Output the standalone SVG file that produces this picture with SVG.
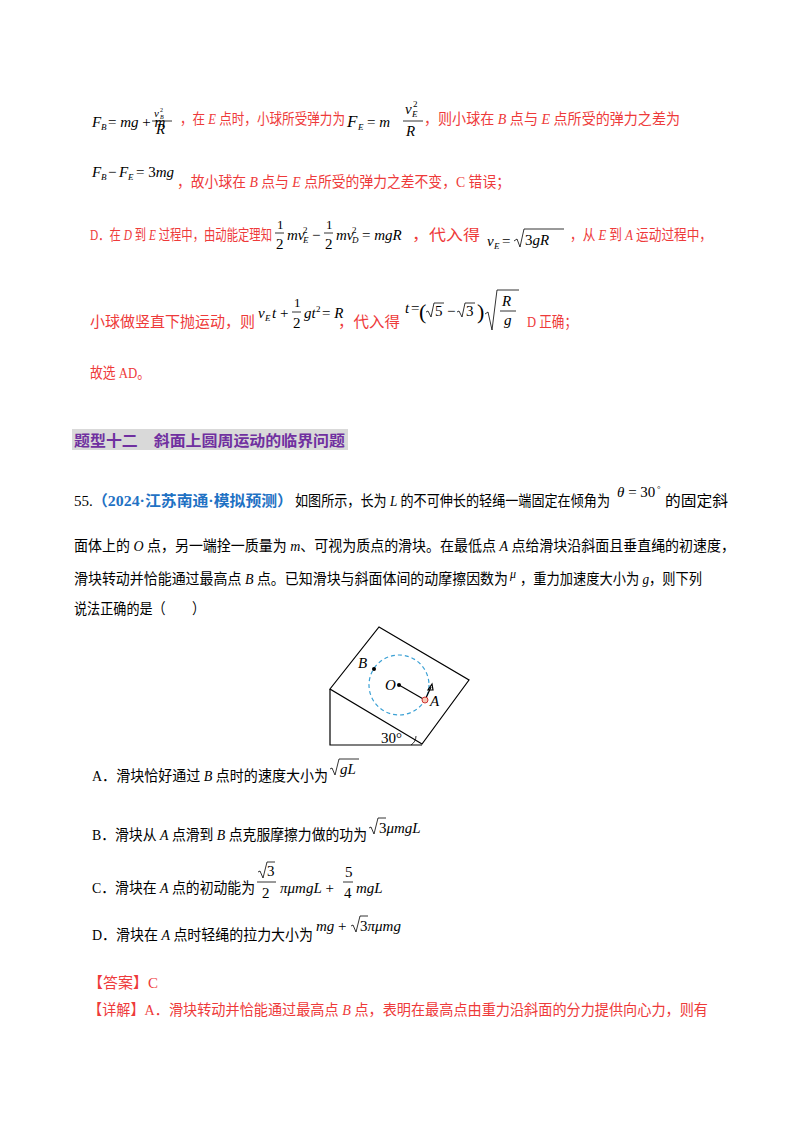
<svg xmlns="http://www.w3.org/2000/svg" width="800" height="1132" viewBox="0 0 800 1132">
<style>
text{font-family:"Liberation Serif","Noto Sans CJK SC",serif;font-size:15px;fill:#000}
.r{fill:#ee3a3a}
.m{font-style:italic;font-family:"Liberation Serif",serif}
.n{font-style:normal;font-family:"Liberation Serif",serif}
.s{font-size:9px}
.b{fill:#1f72c4;font-weight:bold}
.h{fill:#7030a0;font-weight:bold;font-family:"Noto Sans CJK SC",sans-serif;font-size:15px}
line,path,polygon{stroke:#000;fill:none;stroke-width:1.2}
.f{stroke-width:0.8}
</style>
<rect width="800" height="1132" fill="#fff"/>
<g id="text1">
<text x="92" y="127" class="m">F</text><text x="101" y="130" class="m s">B</text>
<text x="108" y="127" class="n">= <tspan class="m">mg</tspan> + <tspan class="m">m</tspan></text>
<text x="154" y="117" class="m" style="font-size:11px">v</text><text x="160" y="119" class="m" style="font-size:6px">B</text><text x="160" y="112" class="n" style="font-size:6px">2</text>
<line x1="152" y1="121" x2="172" y2="121" class="f"/>
<text x="156" y="134" class="m">R</text>
<text x="180" y="124" class="r" textLength="165" lengthAdjust="spacingAndGlyphs">，在 <tspan class="m r">E</tspan> 点时，小球所受弹力为</text>
<text x="347" y="127" class="m" style="font-size:17px">F</text><text x="358" y="130" class="m s">E</text>
<text x="367" y="127" class="n">= <tspan class="m">m</tspan></text>
<text x="405" y="114" class="m">v</text><text x="412" y="117" class="m s">E</text><text x="413" y="107" class="n s">2</text>
<line x1="403" y1="121" x2="423" y2="121" class="f"/>
<text x="406" y="136" class="m">R</text>
<text x="424" y="124" class="r" textLength="256" lengthAdjust="spacingAndGlyphs">，则小球在 <tspan class="m r">B</tspan> 点与 <tspan class="m r">E</tspan> 点所受的弹力之差为</text>

<text x="92" y="177" class="m">F</text><text x="101" y="180" class="m s">B</text>
<text x="108" y="177" class="n">−</text>
<text x="119" y="177" class="m">F</text><text x="128" y="180" class="m s">E</text>
<text x="136" y="177" class="n">= 3<tspan class="m">mg</tspan></text>
<text x="177" y="187" class="r" textLength="333" lengthAdjust="spacingAndGlyphs">，故小球在 <tspan class="m r">B</tspan> 点与 <tspan class="m r">E</tspan> 点所受的弹力之差不变，C 错误；</text>

<text x="90" y="240" class="r" textLength="182" lengthAdjust="spacingAndGlyphs">D．在 <tspan class="m r">D</tspan> 到 <tspan class="m r">E</tspan> 过程中，由动能定理知</text>
<text x="277" y="229" class="n" style="font-size:13px">1</text><line x1="275" y1="233" x2="284" y2="233" class="f"/><text x="276" y="249" class="n">2</text>
<text x="287" y="240" class="m">mv</text><text x="303" y="233" class="n s">2</text><text x="303" y="243" class="m s">E</text>
<text x="312" y="240" class="n">−</text>
<text x="326" y="229" class="n" style="font-size:13px">1</text><line x1="324" y1="233" x2="333" y2="233" class="f"/><text x="325" y="249" class="n">2</text>
<text x="336" y="240" class="m">mv</text><text x="352" y="233" class="n s">2</text><text x="352" y="243" class="m s">D</text>
<text x="362" y="240" class="n">= <tspan class="m">mgR</tspan></text>
<text x="412" y="240" class="r" textLength="68" lengthAdjust="spacingAndGlyphs">，代入得</text>
<text x="487" y="246" class="m">v</text><text x="494" y="249" class="m s">E</text>
<text x="502" y="246" class="n">=</text>
<path d="M514,241 l3,-2 l3,8 l4,-18 h40" class="f"/>
<text x="525" y="245" class="n">3<tspan class="m">gR</tspan></text>
<text x="570" y="240" class="r" textLength="142" lengthAdjust="spacingAndGlyphs">，从 <tspan class="m r">E</tspan> 到 <tspan class="m r">A</tspan> 运动过程中，</text>

<text x="90" y="327" class="r" textLength="165" lengthAdjust="spacingAndGlyphs">小球做竖直下抛运动，则</text>
<text x="258" y="318" class="m">v</text><text x="265" y="321" class="m s">E</text><text x="272" y="318" class="m">t</text>
<text x="280" y="318" class="n">+</text>
<text x="294" y="307" class="n" style="font-size:13px">1</text><line x1="292" y1="312" x2="301" y2="312" class="f"/><text x="293" y="328" class="n">2</text>
<text x="304" y="318" class="m">gt</text><text x="316" y="312" class="n s">2</text>
<text x="322" y="318" class="n">= <tspan class="m">R</tspan></text>
<text x="338" y="327" class="r" textLength="62" lengthAdjust="spacingAndGlyphs">，代入得</text>
<text x="405" y="313" class="m">t</text><text x="411" y="313" class="n">=</text>
<text x="419" y="319" class="n" style="font-size:22px">(</text>
<path d="M426,312 l2,-1 l3,6 l3,-14 h10" class="f"/><text x="435" y="316" class="n">5</text>
<text x="447" y="316" class="n">−</text>
<path d="M457,312 l2,-1 l3,6 l3,-14 h10" class="f"/><text x="466" y="316" class="n">3</text>
<text x="477" y="319" class="n" style="font-size:22px">)</text>
<path d="M485,314 l3,-2 l4,18 l5,-40 h22" class="f"/>
<text x="502" y="306" class="m">R</text><line x1="500" y1="311" x2="516" y2="311" class="f"/><text x="504" y="325" class="m">g</text>
<text x="527" y="327" class="r" textLength="50" lengthAdjust="spacingAndGlyphs">D 正确；</text>
<text x="90" y="378" class="r" textLength="60" lengthAdjust="spacingAndGlyphs">故选 AD。</text>
</g>
<g id="heading">
<rect x="72" y="429" width="276" height="21" fill="#d9d9d9"/>
<text x="74" y="446" class="h" textLength="271" lengthAdjust="spacingAndGlyphs">题型十二　斜面上圆周运动的临界问题</text>
</g>
<g id="question">
<text x="74" y="506">55.</text>
<text x="92" y="506" class="b" textLength="201" lengthAdjust="spacingAndGlyphs">（2024·江苏南通·模拟预测）</text>
<text x="295" y="506" textLength="315" lengthAdjust="spacingAndGlyphs">如图所示，长为 <tspan class="m">L</tspan> 的不可伸长的轻绳一端固定在倾角为</text>
<text x="617" y="497" class="m">θ<tspan class="n"> = 30</tspan></text><text x="657" y="492" class="n s">°</text>
<text x="665" y="506" textLength="63" lengthAdjust="spacingAndGlyphs">的固定斜</text>
<text x="74" y="551" textLength="661" lengthAdjust="spacingAndGlyphs">面体上的 <tspan class="m">O</tspan> 点，另一端拴一质量为 <tspan class="m">m</tspan>、可视为质点的滑块。在最低点 <tspan class="m">A</tspan> 点给滑块沿斜面且垂直绳的初速度，</text>
<text x="74" y="584" textLength="434" lengthAdjust="spacingAndGlyphs">滑块转动并恰能通过最高点 <tspan class="m">B</tspan> 点。已知滑块与斜面体间的动摩擦因数为</text>
<text x="510" y="578" class="m" style="font-size:12px">μ</text>
<text x="520" y="584" textLength="182" lengthAdjust="spacingAndGlyphs">，重力加速度大小为 <tspan class="m">g</tspan>，则下列</text>
<text x="74" y="614" textLength="131" lengthAdjust="spacingAndGlyphs">说法正确的是（　　）</text>
</g>
<g id="figure">
<polygon points="379,627 469,680 422,744 330,689"/>
<polyline points="330,689 330,745 422,745" fill="none" stroke="#000" stroke-width="1.2"/>
<path d="M411,745 A11,11 0 0 0 416,736" class="f"/>
<circle cx="399" cy="685" r="30" fill="none" stroke="#3aa0d4" stroke-width="1.2" stroke-dasharray="4,3"/>
<line x1="399" y1="685" x2="425" y2="700"/>
<line x1="425" y1="700" x2="431" y2="687"/>
<polygon points="432,684 428,690 433,690" fill="#000" stroke-width="0.8"/>
<circle cx="399" cy="685" r="2" fill="#000"/>
<circle cx="374" cy="669" r="2" fill="#000"/>
<circle cx="425" cy="700" r="3" fill="#f7c7b5" stroke="#c33" stroke-width="1"/>
<text x="358" y="668" class="m">B</text>
<text x="385" y="690" class="m">O</text>
<text x="430" y="706" class="m">A</text>
<text x="381" y="743" class="n">30°</text>
</g>
<g id="options">
<text x="92" y="781" textLength="236" lengthAdjust="spacingAndGlyphs">A．滑块恰好通过 <tspan class="m">B</tspan> 点时的速度大小为</text>
<path d="M330,769 l2,-1 l3,7 l4,-16 h20" class="f"/><text x="340" y="774" class="m">gL</text>
<text x="92" y="840" textLength="275" lengthAdjust="spacingAndGlyphs">B．滑块从 <tspan class="m">A</tspan> 点滑到 <tspan class="m">B</tspan> 点克服摩擦力做的功为</text>
<path d="M369,828 l2,-1 l3,7 l4,-16 h8" class="f"/><text x="379" y="833" class="n">3<tspan class="m">μmgL</tspan></text>
<text x="92" y="893" textLength="163" lengthAdjust="spacingAndGlyphs">C．滑块在 <tspan class="m">A</tspan> 点的初动能为</text>
<path d="M258,872 l2,-1 l3,7 l4,-16 h8" class="f"/><text x="267" y="876" class="n">3</text>
<line x1="257" y1="882" x2="276" y2="882" class="f"/><text x="262" y="898" class="n">2</text>
<text x="280" y="893" class="m">πμmgL<tspan class="n"> + </tspan></text>
<text x="345" y="877" class="n">5</text><line x1="343" y1="882" x2="353" y2="882" class="f"/><text x="344" y="898" class="n">4</text>
<text x="356" y="893" class="m">mgL</text>
<text x="92" y="940" textLength="221" lengthAdjust="spacingAndGlyphs">D．滑块在 <tspan class="m">A</tspan> 点时轻绳的拉力大小为</text>
<text x="316" y="931" class="m">mg<tspan class="n"> + </tspan></text>
<path d="M351,926 l2,-1 l3,7 l4,-16 h8" class="f"/><text x="360" y="931" class="n">3<tspan class="m">πμmg</tspan></text>
</g>
<g id="answer">
<text x="88" y="988" class="r" textLength="70" lengthAdjust="spacingAndGlyphs">【答案】C</text>
<text x="88" y="1015" class="r" textLength="620" lengthAdjust="spacingAndGlyphs">【详解】A．滑块转动并恰能通过最高点 <tspan class="m r">B</tspan> 点，表明在最高点由重力沿斜面的分力提供向心力，则有</text>
</g>
<g id="connectors"/>
</svg>
